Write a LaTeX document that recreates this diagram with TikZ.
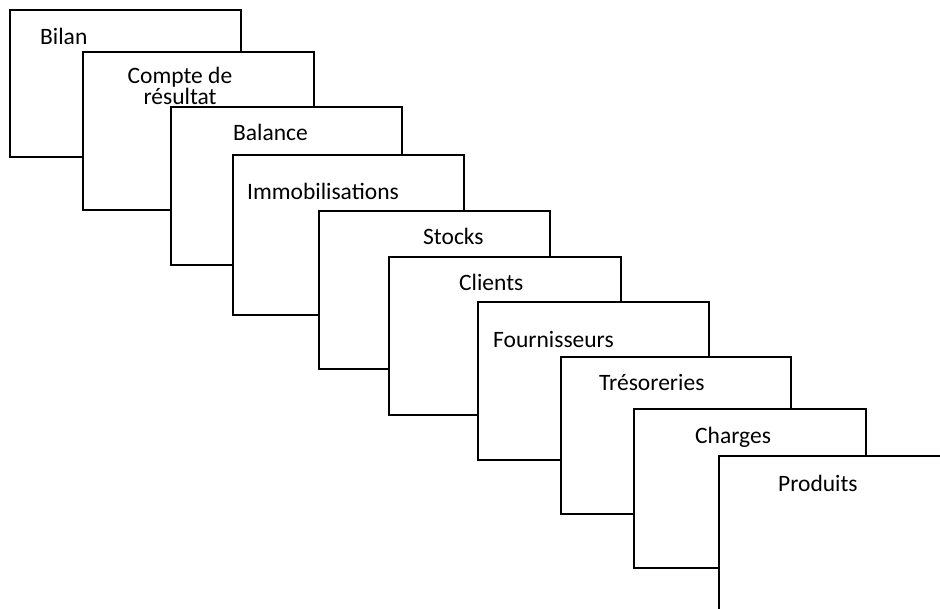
\documentclass[tikz,border=0pt]{standalone}
\usepackage{fontspec}
\setmainfont{Carlito}
\begin{document}
\begin{tikzpicture}[x=1pt,y=-1pt,
  sheet/.style={draw=black,fill=white,line width=2.2pt,line join=miter},
  caption/.style={anchor=base west,inner sep=0pt,font=\fontsize{23.5}{23.5}\selectfont}]
\useasboundingbox (0,0) rectangle (940,609);
\begin{scope}
\clip (0,0) rectangle (940,609);
% stacked sheets, each one laid over the previous
\draw[sheet] (10,10) rectangle (241,157) coordinate (s1);
\node[caption] (t1) at (40,45) {Bilan};
\draw[sheet] (83,52) rectangle (314,210) coordinate (s2);
\node[caption,anchor=center,align=center,font=\fontsize{23.5}{18}\selectfont] (t2) at (180,86) {Compte de\\résultat};
\draw[sheet] (171,107) rectangle (402,265) coordinate (s3);
\node[caption] (t3) at (233,141) {Balance};
\draw[sheet] (233,155) rectangle (464,315) coordinate (s4);
\node[caption] (t4) at (247,200) {Immobilisations};
\draw[sheet] (319,211) rectangle (550,369) coordinate (s5);
\node[caption] (t5) at (423,245) {Stocks};
\draw[sheet] (389,257) rectangle (621,415) coordinate (s6);
\node[caption] (t6) at (459,291) {Clients};
\draw[sheet] (478,302) rectangle (709,460) coordinate (s7);
\node[caption] (t7) at (493,348) {Fournisseurs};
\draw[sheet] (561,357) rectangle (791,514) coordinate (s8);
\node[caption] (t8) at (599,391) {Trésoreries};
\draw[sheet] (634,409) rectangle (866,568) coordinate (s9);
\node[caption] (t9) at (695,443) {Charges};
\draw[sheet] (719,456) rectangle (952,615) coordinate (s10);
\node[caption] (t10) at (778,491) {Produits};
\end{scope}
\end{tikzpicture}
\end{document}
